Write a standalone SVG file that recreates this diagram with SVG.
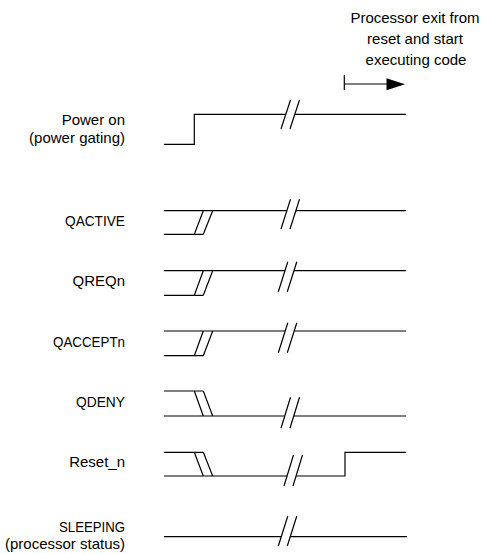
<svg xmlns="http://www.w3.org/2000/svg" width="485" height="554" viewBox="0 0 485 554">
<style>
.w{fill:none;stroke:#000;stroke-width:1.2;stroke-linejoin:miter}
.l{font-family:"Liberation Sans",Arial,sans-serif;font-size:15px;fill:#000;text-anchor:end}
.n{font-family:"Liberation Sans",Arial,sans-serif;font-size:15px;fill:#000;text-anchor:middle}
</style>
<rect width="485" height="554" fill="#fff"/>
<g id="note">
<text class="n" x="415" y="23">Processor exit from</text>
<text class="n" x="415" y="44">reset and start</text>
<text class="n" x="416" y="65">executing code</text>
</g>
<g id="power-on">
<text class="l" x="125" y="125">Power on</text>
<text class="l" x="125" y="143">(power gating)</text>
<path class="w" d="M164 144.3H194.3V114.3H285.8M294.8 114.3H406"/>
<path class="w" d="M281 129L290.5 100M290 129L299.5 100"/>
</g>
<g id="qactive">
<text class="l" x="125" y="226" textLength="60" lengthAdjust="spacingAndGlyphs">QACTIVE</text>
<path class="w" d="M164 210.7H286.9M295.9 210.7H406M164 234.3H203.3M194.3 234.3L203.3 210.7M203.3 234.3L212.7 210.7"/>
<path class="w" d="M281 229L290.5 199.3M290 229L299.5 199.3"/>
</g>
<g id="qreqn">
<text class="l" x="125" y="286">QREQn</text>
<path class="w" d="M164 270.7H285M294 270.7H406M164 295.3H203.3M194.3 295.3L203.3 270.7M203.3 295.3L212.7 270.7"/>
<path class="w" d="M278.3 291.7L287.8 261.7M287.3 291.7L296.8 261.7"/>
</g>
<g id="qacceptn">
<text class="l" x="125" y="347" textLength="72" lengthAdjust="spacingAndGlyphs">QACCEPTn</text>
<path class="w" d="M164 331H285.2M294.2 331H406M164 355.7H203.3M194.3 355.7L203.3 331M203.3 355.7L212.7 331"/>
<path class="w" d="M278.3 352.7L287.8 322.7M287.3 352.7L296.8 322.7"/>
</g>
<g id="qdeny">
<text class="l" x="125" y="407" textLength="49" lengthAdjust="spacingAndGlyphs">QDENY</text>
<path class="w" d="M164 391H203.3M194.3 391L203.3 416M203.3 391L212.7 416M164 416H284.8M293.8 416H406"/>
<path class="w" d="M281 428.3L290.5 397.3M290 428.3L299.5 397.3"/>
</g>
<g id="reset-n">
<text class="l" x="125" y="467">Reset_n</text>
<path class="w" d="M164 452.3H203.3M194.3 452.3L203.3 476M203.3 452.3L212.7 476M164 476H287.1M296.1 476H345V452.3H406"/>
<path class="w" d="M284 486L293.5 455M293 486L302.5 455"/>
</g>
<g id="sleeping">
<text class="l" x="125" y="532" textLength="66" lengthAdjust="spacingAndGlyphs">SLEEPING</text>
<text class="l" x="125" y="549">(processor status)</text>
<path class="w" d="M164 536.7H281.2M290.2 536.7H407"/>
<path class="w" d="M278.3 546L287.8 516M287.3 546L296.8 516"/>
</g>
<g id="connectors">
<path class="w" d="M344.3 75V90M344.3 84H388"/>
<polygon points="386.5,78.2 405,84.2 386.5,90.2" fill="#000"/>
</g>
</svg>
